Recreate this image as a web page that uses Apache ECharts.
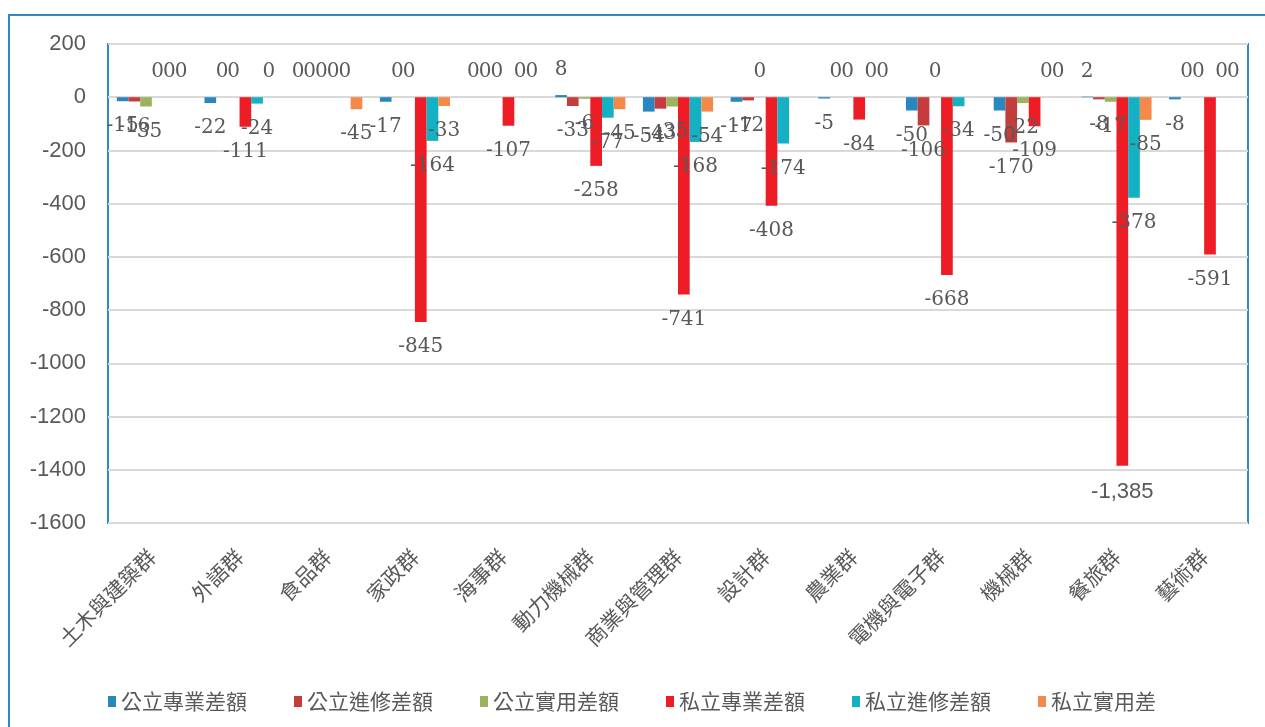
<!DOCTYPE html>
<html>
<head>
<meta charset="utf-8">
<script src="https://cdn.jsdelivr.net/npm/echarts@6/dist/echarts.min.js"></script>
<style>
  html, body { margin: 0; padding: 0; background: #fff; }
  #chart { width: 1265px; height: 727px; }
</style>
</head>
<body>
<div id="chart"></div>
<script>
// categories
const groups = ["土木與建築群", "外語群", "食品群", "家政群", "海事群", "動力機械群", "商業與管理群",
  "設計群", "農業群", "電機與電子群", "機械群", "餐旅群", "藝術群"];

const seriesNames = ["公立專業差額", "公立進修差額", "公立實用差額", "私立專業差額", "私立進修差額", "私立實用差"];

// values (null = no value)
const publicPro = [-15, -22, 0, -17, 0, 8, -54, -17, -5, -50, -50, 2, -8];
const publicNight = [-16, 0, 0, 0, 0, -33, -43, -12, 0, -106, -170, -8, 0];
const publicPractical = [-35, 0, 0, 0, 0, -6, -35, 0, 0, 0, -22, -17, 0];
const privatePro = [0, -111, 0, -845, -107, -258, -741, -408, -84, -668, -109, -1385, -591];
const privateNight = [0, -24, 0, -164, 0, -77, -168, -174, 0, -34, 0, -378, 0];
const privatePractical = [0, 0, -45, -33, 0, -45, -54, null, 0, null, 0, -85, 0];

const yMin = -1600;
const yMax = 200;
const yStep = 200;

const colores = ["#2A86BE", "#C43C3C", "#9BB35F", "#EE1C25", "#14B0C4", "#F5894A"];
const allData = [publicPro, publicNight, publicPractical, privatePro, privateNight, privatePractical];

const chart = echarts.init(document.getElementById("chart"));

function toItems(arr) {
  // label goes above the bar for zero / positive values, below for negative ones
  return arr.map(v => {
    if (v === null) return null;
    return { value: v, label: { position: v >= 0 ? "top" : "bottom" } };
  });
}

function labelText(p) {
  const v = p.value;
  if (Math.abs(v) >= 1000) {
    return "{s|" + v.toLocaleString("en-US") + "}";
  }
  return String(v);
}

const series = seriesNames.map((name, i) => ({
  name: name,
  type: "bar",
  barGap: "0%",
  barCategoryGap: "20%",
  itemStyle: { color: colores[i] },
  label: {
    show: true,
    distance: 15,
    formatter: labelText,
    color: "#595959",
    fontFamily: "DejaVu Serif",
    fontSize: 20,
    rich: {
      s: { fontFamily: "Liberation Sans", fontSize: 22, color: "#595959" }
    }
  },
  data: toItems(allData[i])
}));

chart.setOption({
  animation: false,
  backgroundColor: "#fff",
  graphic: [
    {
      type: "polyline",
      shape: { points: [[1275, 15], [9, 15], [9, 740]] },
      style: { stroke: "#2E8BC0", lineWidth: 2, fill: null }
    }
  ],
  grid: {
    left: 108,
    top: 44,
    right: 17,
    bottom: 204,
    show: true,
    borderColor: "#2E8BC0",
    borderWidth: 2,
    backgroundColor: "transparent"
  },
  legend: {
    left: 103,
    top: 686,
    icon: "rect",
    itemWidth: 8,
    itemHeight: 11,
    itemGap: 47,
    textStyle: { fontFamily: "Noto Sans CJK TC", fontSize: 21, color: "#595959" },
    data: seriesNames
  },
  xAxis: {
    type: "category",
    data: groups,
    axisLine: { show: false, onZero: false },
    axisTick: { show: false },
    axisLabel: {
      rotate: 45,
      margin: 30,
      interval: 0,
      color: "#595959",
      fontFamily: "Noto Sans CJK TC",
      fontSize: 21
    }
  },
  yAxis: {
    type: "value",
    min: yMin,
    max: yMax,
    interval: yStep,
    axisLine: { show: false },
    axisTick: { show: false },
    axisLabel: {
      margin: 22,
      color: "#595959",
      fontFamily: "Liberation Sans",
      fontSize: 22,
      formatter: v => String(v)
    },
    splitLine: { lineStyle: { color: "#D9D9D9", width: 2 } }
  },
  series: series
});

window.addEventListener("resize", () => chart.resize());
</script>
</body>
</html>
